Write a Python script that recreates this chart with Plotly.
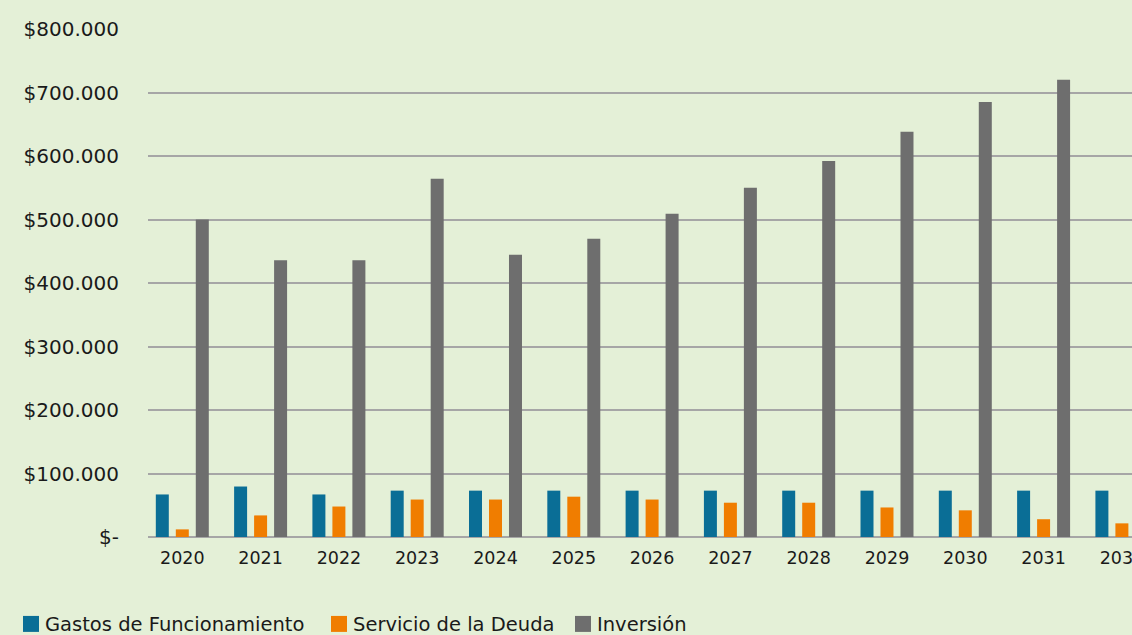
import plotly.graph_objects as go

years = ["2020", "2021", "2022", "2023", "2024", "2025", "2026", "2027", "2028", "2029", "2030", "2031", "2032"]
gastos = [67000, 79500, 67000, 73000, 73000, 73000, 73000, 73000, 73000, 73000, 73000, 73000, 73000]
deuda = [12000, 34000, 48000, 59000, 59000, 63500, 59000, 54000, 54000, 46500, 42000, 28000, 21500]
inversion = [500000, 436000, 436000, 564000, 444500, 469500, 509000, 550000, 592000, 638000, 685000, 720000, 760000]

series_names = ["Gastos de Funcionamiento", "Servicio de la Deuda", "Inversión"]
series_colors = ["#0A6E96", "#F07D00", "#6E6E6E"]

tick_vals = [0, 100000, 200000, 300000, 400000, 500000, 600000, 700000, 800000]
tick_text = ["$-", "$100.000", "$200.000", "$300.000", "$400.000", "$500.000", "$600.000", "$700.000", "$800.000"]

BG = "#E4F0D7"
GRID = "#A6A6A6"
TXT = "#1A1A1A"

# the chart is wider than the window; the window crops its right side (as in the reference)
W, H = 1190, 635
ML, MR, MT, MB = 148, 0, 29, 97.5
PW, PH = W - ML - MR, H - MT - MB
CAT_PX = 78.3
X0 = -0.438
X1 = X0 + PW / CAT_PX


def px_x(px):
    return (px - ML) / PW


def px_y(py):
    return (H - MB - py) / PH


fig = go.Figure()
for name, vals, col in zip(series_names, [gastos, deuda, inversion], series_colors):
    fig.add_trace(go.Bar(x=years, y=vals, name=name, marker=dict(color=col, line=dict(width=0))))

legend_sq_left = [23, 331, 575]
shapes = []
annotations = []
for name, col, x0 in zip(series_names, series_colors, legend_sq_left):
    shapes.append(dict(
        type="rect", xref="paper", yref="paper",
        x0=px_x(x0), x1=px_x(x0 + 16), y0=px_y(632.5), y1=px_y(616.5),
        fillcolor=col, line=dict(width=0), layer="above",
    ))
    annotations.append(dict(
        xref="paper", yref="paper", x=px_x(x0 + 20), y=px_y(625),
        xanchor="left", yanchor="middle", showarrow=False, text=name,
        font=dict(size=19.5, family="DejaVu Sans", color=TXT),
    ))

fig.update_layout(
    width=W,
    height=H,
    autosize=False,
    margin=dict(l=ML, r=MR, t=MT, b=MB, pad=0),
    paper_bgcolor=BG,
    plot_bgcolor=BG,
    barmode="group",
    bargap=0.234,
    bargroupgap=0.35,
    font=dict(family="DejaVu Sans", color=TXT),
    showlegend=False,
    shapes=shapes,
    annotations=annotations,
)

fig.update_xaxes(
    type="category",
    range=[X0, X1],
    automargin=False,
    showgrid=False,
    showline=False,
    zeroline=False,
    ticks="",
    tickfont=dict(size=17.5, family="DejaVu Sans", color=TXT),
    ticklabelstandoff=8,
)

fig.update_yaxes(
    range=[0, 800000],
    automargin=False,
    tickmode="array",
    tickvals=tick_vals,
    ticktext=tick_text,
    showgrid=True,
    gridcolor=GRID,
    gridwidth=1.6,
    zeroline=True,
    zerolinecolor=GRID,
    zerolinewidth=1.6,
    showline=False,
    ticks="",
    tickfont=dict(size=20, family="DejaVu Sans", color=TXT),
    ticklabelstandoff=28,
)

fig.write_html(
    "out.html",
    config={"displayModeBar": False},
    post_script=(
        "document.documentElement.style.overflow='hidden';"
        "document.body.style.margin='0px';document.body.style.overflow='hidden';"
    ),
)
